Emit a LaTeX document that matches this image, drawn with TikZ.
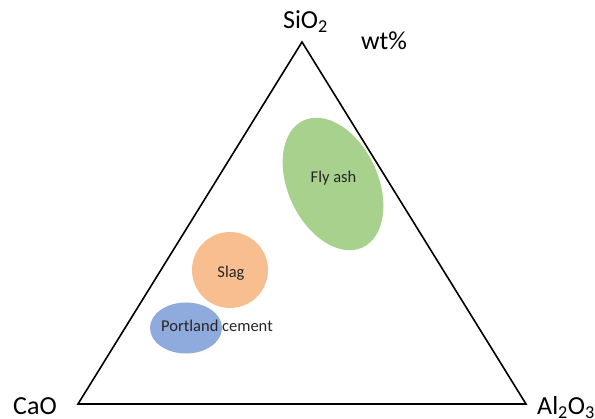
\documentclass[tikz,border=0pt]{standalone}
\usepackage{fontspec}
\setmainfont{Carlito}
\definecolor{flyash}{HTML}{A9D18E}
\definecolor{slag}{HTML}{F8BE8F}
\definecolor{portland}{HTML}{8FAADC}
\definecolor{txt}{HTML}{262626}
\tikzset{
	corner/.style={inner sep=0pt, font=\fontsize{26}{30}\selectfont},
	field/.style={inner sep=0pt, text=txt, font=\fontsize{16.5}{19}\selectfont}
}
\begin{document}
\begin{tikzpicture}[x=1pt, y=-1pt]
	\useasboundingbox (0,0) rectangle (595,419);

	% phase fields
	\fill[color=flyash, rotate around={25:(333,184)}]	(333,184) ellipse (45 and 70);
	\fill[color=slag]	(230,270) circle (38);
	\fill[color=portland]	(186,328) ellipse (36 and 25.5);

	% ternary triangle
	\coordinate (top) at (302,42);
	\coordinate (left) at (78,404);
	\coordinate (right) at (526,404);
	\draw[line width=1.6pt, line join=miter]	(top) -- (left) -- (right) -- cycle;

	\node[corner, anchor=base]	(sio) at (305.5,29) {SiO\textsubscript{2}};
	\node[corner, anchor=base]	(wt) at (384,50) {wt\%};
	\node[corner, anchor=base]	(cao) at (35,415) {CaO};
	\node[corner, anchor=base west]	(alo) at (537,415) {Al\textsubscript{2}O\textsubscript{3}};

	\node[field, anchor=base]	(fly) at (333.5,183) {Fly ash};
	\node[field, anchor=base]	(sl) at (231,278) {Slag};
	\node[field, anchor=base]	(pc) at (217,332) {Portland cement};
\end{tikzpicture}
\end{document}
